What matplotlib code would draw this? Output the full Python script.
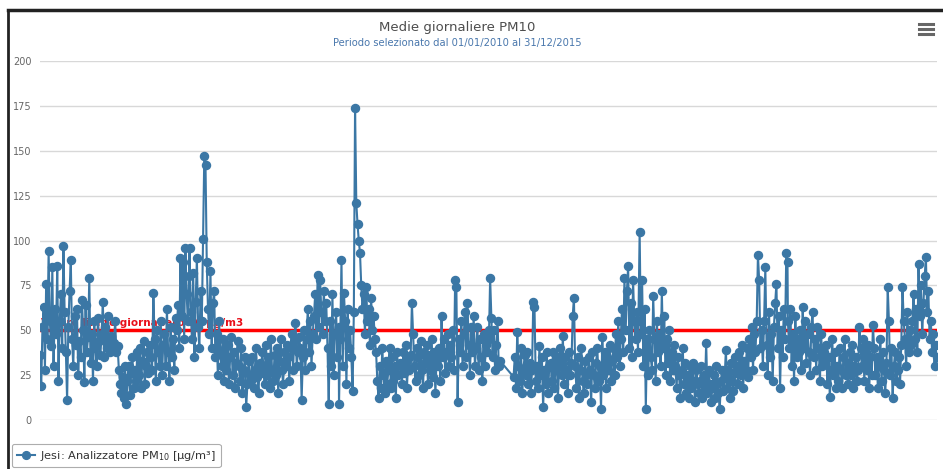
import numpy as np
import pandas as pd
import matplotlib
matplotlib.use('Agg')
import matplotlib.pyplot as plt
from matplotlib.lines import Line2D

plt.rcParams['font.family'] = ['DejaVu Sans']

nan = np.nan

# medie giornaliere PM10 (un valore ogni ~3 giorni), per anno
pm10_2010 = [36, 19, 52, 63, 28, 76, 45, 94, 55, 41,
             85, 30, 62, 48, 86, 22, 55, 70, 40, 97,
             60, 38, 11, 52, 72, 89, 45, 30, 58, 42,
             62, 25, 44, 35, 67, 50, 21, 64, 38, 46,
             79, 32, 48, 22, 55, 40, 30, 57, 44, 36,
             48, 66, 35, 52, 40, 58, 45, 38, 47, 40,
             43, 55, 38, 41, 28, 20, 15, 24, 12, 30,
             9, 22, 30, 14, 26, 35, 18, 28, 22, 38,
             25, 40, 18, 33, 44, 20, 30, 38, 26, 42,
             35, 28, 71, 45, 22, 50, 38, 30, 55, 25, 42,
             48, 30, 62, 38, 22, 52, 35, 45, 28, 57,
             50, 64, 40, 90, 58, 88, 45, 96, 70, 55, 80]
pm10_2011 = [96, 60, 45, 82, 35, 66, 90, 52, 40, 72,
             55, 101, 147, 142, 88, 62, 48, 83, 40, 65,
             72, 35, 48, 25, 55, 38, 30, 45, 22, 40,
             28, 42, 20, 35, 46, 25, 38, 18, 32, 44,
             30, 22, 40, 15, 28, 35, 7, 20, 33, 25,
             22, 35, 18, 28, 40, 24, 15, 32, 26, 38,
             30, 20, 42, 25, 35, 18, 45, 28, 22, 36,
             25, 40, 15, 33, 45, 28, 20, 38, 30, 42,
             35, 22, 40, 48, 28, 44, 54, 30, 38, 46,
             40, 11, 35, 50, 28, 45, 62, 38, 55, 30, 48,
             58, 70, 45, 81, 52, 78, 60, 48, 72, 55,
             65, 40, 9, 55, 30, 70, 25, 48, 60, 35, 52]
pm10_2012 = [9, 45, 89, 30, 71, 55, 20, 62, 40, 50,
             35, 16, 60, 174, 121, 109, 100, 93, 75, 62,
             70, 48, 74, 55, 62, 42, 68, 50, 58, 45,
             38, 22, 12, 30, 18, 40, 25, 15, 33, 20,
             28, 40, 18, 35, 22, 30, 12, 38, 25, 32,
             30, 20, 38, 26, 42, 18, 34, 28, 36, 65,
             48, 30, 22, 40, 35, 25, 44, 28, 18, 38,
             32, 42, 20, 36, 28, 45, 24, 38, 15, 34,
             30, 40, 22, 58, 35, 45, 26, 38, 48, 30,
             42, 35, 50, 28, 78, 74, 10, 45, 38, 55, 30,
             48, 60, 35, 65, 42, 25, 52, 38, 58, 30,
             40, 52, 28, 45, 35, 22, 48, 30, 42, 38, 50]
pm10_2013 = [45, 79, 57, 35, 50, 28, 42, 55, 30, 33,
             nan, nan, nan, nan, nan, nan, nan, nan, nan, nan,
             24, 35, 18, 49, 30, 22, 40, 15, 28, 36,
             25, 38, 20, 32, 15, 28, 66, 63, 22, 30,
             18, 41, 25, 35, 7, 28, 20, 38, 15, 30,
             32, 22, 38, 18, 28, 35, 12, 30, 40, 25,
             47, 20, 35, 28, 15, 38, 25, 32, 58, 68,
             30, 18, 35, 12, 28, 40, 22, 15, 33, 25,
             20, 35, 28, 10, 38, 25, 18, 32, 40, 22,
             30, 6, 46, 25, 38, 18, 35, 28, 42, 22, 33,
             40, 25, 48, 35, 55, 30, 45, 62, 38, 79,
             50, 72, 86, 40, 65, 35, 78, 55, 45, 60, 38]
pm10_2014 = [55, 105, 48, 78, 30, 62, 6, 45, 25, 50,
             35, 28, 69, 45, 22, 55, 38, 48, 30, 72,
             40, 58, 25, 45, 32, 50, 22, 38, 28, 42,
             30, 18, 35, 25, 12, 28, 40, 20, 32, 15,
             25, 12, 30, 18, 32, 22, 10, 28, 20, 15,
             22, 30, 12, 25, 18, 43, 15, 28, 20, 10,
             18, 25, 12, 30, 20, 15, 6, 22, 28, 16,
             24, 39, 18, 28, 12, 32, 22, 16, 35, 26,
             30, 20, 38, 25, 42, 18, 33, 28, 40, 24,
             45, 35, 52, 28, 48, 38, 55, 92, 78, 40, 50,
             30, 55, 85, 42, 25, 60, 35, 48, 22, 52,
             65, 76, 40, 58, 18, 50, 35, 62, 45, 93, 88]
pm10_2015 = [55, 40, 62, 30, 48, 22, 58, 35, 45, 38,
             50, 28, 63, 40, 55, 32, 48, 38, 25, 52,
             60, 35, 45, 28, 52, 40, 22, 48, 30, 38,
             32, 42, 20, 35, 13, 28, 45, 25, 38, 18,
             30, 22, 40, 28, 18, 35, 45, 25, 32, 20,
             38, 25, 42, 18, 30, 35, 22, 28, 52, 40,
             30, 45, 22, 38, 28, 42, 18, 35, 25, 53,
             40, 25, 35, 18, 30, 45, 22, 38, 28, 15,
             32, 74, 55, 25, 40, 12, 30, 38, 22, 28,
             35, 20, 42, 74, 55, 45, 30, 60, 38, 50, 42,
             55, 70, 45, 62, 38, 87, 58, 75, 48, 65,
             80, 91, 60, 72, 45, 55, 38, 48, 30, 42, 35]

years = [2010, 2011, 2012, 2013, 2014, 2015]
yearly = [pm10_2010, pm10_2011, pm10_2012, pm10_2013, pm10_2014, pm10_2015]

limit_value = 50
limit_label = 'Valore limite giornaliero 50 µg/m3'
y_ticks = [0, 25, 50, 75, 100, 125, 150, 175, 200]

parts = []
for yr, vals in zip(years, yearly):
    idx = pd.date_range(f'{yr}-01-01', f'{yr}-12-31', periods=len(vals))
    parts.append(pd.Series(vals, index=idx))
serie = pd.concat(parts).dropna()

W, H = 943, 469
fig = plt.figure(figsize=(W / 100, H / 100), dpi=100)
ax = fig.add_axes([40 / W, (H - 420) / H, 897 / W, 359 / H])

blue = '#3b77a5'
ax.axhline(limit_value, color='#ff0000', lw=2.5, zorder=2)
ax.text(pd.Timestamp('2010-01-03'), limit_value + 1.5, limit_label,
        color='#e8101a', fontsize=7.5, fontweight='bold', va='bottom', zorder=2)
ax.plot(serie.index, serie.values, color=blue, lw=1.5, marker='o', ms=5.8,
        mfc=blue, mec=blue, zorder=3)

ax.set_xlim(pd.Timestamp('2010-01-01'), pd.Timestamp('2015-12-31'))
ax.set_ylim(0, 200)
ax.set_yticks(y_ticks)
ax.tick_params(axis='y', length=0, pad=6, labelsize=7, labelcolor='#666666')
ax.tick_params(axis='x', length=0, labelbottom=False)
ax.grid(axis='y', color='#d8d8d8', lw=1)
ax.set_axisbelow(True)
for s in ax.spines.values():
    s.set_visible(False)

# titolo e sottotitolo
fig.text(457 / W, 1 - 27 / H, 'Medie giornaliere PM10', ha='center', va='center',
         fontsize=9.5, color='#4d4d4d')
fig.text(457 / W, 1 - 43 / H, 'Periodo selezionato dal 01/01/2010 al 31/12/2015',
         ha='center', va='center', fontsize=7.2, color='#4a78ad')

# icona menu
for yy in (24, 29, 34):
    fig.add_artist(Line2D([919 / W, 933 / W], [1 - yy / H, 1 - yy / H],
                          color='#666666', lw=2.2))

# bordo
fig.add_artist(Line2D([8 / W, 8 / W], [0, 1 - 10 / H], color='#222222', lw=2))
fig.add_artist(Line2D([8 / W, 1], [1 - 10 / H, 1 - 10 / H], color='#222222', lw=2.5))

# legenda (tagliata in basso)
handle = Line2D([], [], color=blue, lw=1.5, marker='o', ms=5.6)
leg = fig.legend([handle], ['Jesi: Analizzatore PM$_{10}$ [µg/m³]'],
                 loc='upper left', bbox_to_anchor=(12 / W, 1 - 444 / H),
                 borderaxespad=0, frameon=True, fancybox=True, fontsize=8.2,
                 handlelength=1.6, borderpad=0.4, handletextpad=0.5,
                 labelcolor='#333333')
leg.get_frame().set_edgecolor('#999999')
leg.get_frame().set_linewidth(0.8)

fig.savefig('out.png', dpi=100)
